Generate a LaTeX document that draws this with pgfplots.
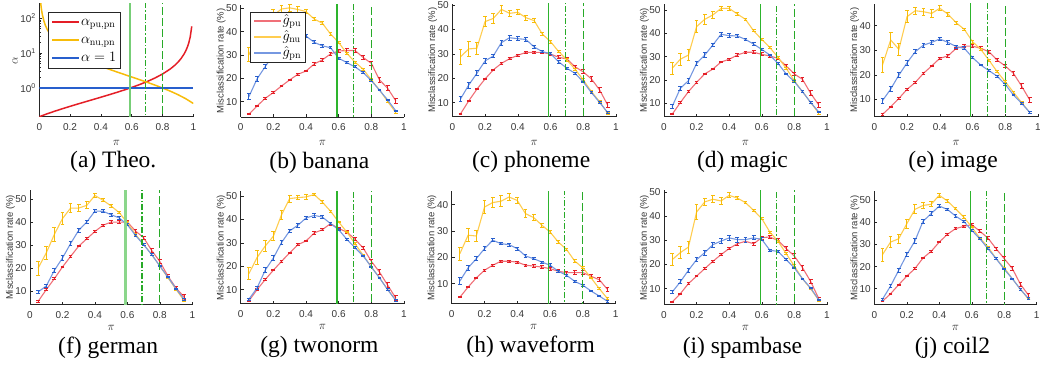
\documentclass[border=0pt]{standalone}
\usepackage[no-math]{fontspec}
\setmainfont{Liberation Sans}
\newfontfamily\capfont{Liberation Serif}
\usepackage{pgfplots}
\usepackage{pgfplotstable}
\pgfplotsset{compat=1.18}

\definecolor{axgray}{RGB}{38,38,38}
\definecolor{labgray}{RGB}{55,55,55}
\definecolor{cR}{RGB}{228,30,38}
\definecolor{cY}{RGB}{247,188,10}
\definecolor{cB}{RGB}{40,95,205}
\definecolor{lR}{RGB}{240,112,120}
\definecolor{lY}{RGB}{255,205,80}
\definecolor{lB}{RGB}{118,152,225}
\definecolor{gS}{RGB}{45,180,45}
\definecolor{gD}{RGB}{40,170,40}

\pgfplotsset{
  every axis title shift=0pt,
  pan/.style={scale only axis, anchor=south west,
    axis x line*=bottom, axis y line*=left,
    xmin=0, xmax=1, xtick={0,0.2,0.4,0.6,0.8,1},
    tick align=inside, major tick length=3pt, minor tick length=1.5pt,
    axis line style={draw=axgray, line width=0.6pt},
    every tick/.style={draw=axgray, line width=0.5pt},
    tick label style={font=\fontsize{10}{12}\selectfont, text=labgray},
    x tick label style={yshift=-3pt},
    /pgf/number format/assume math mode=true,
    xlabel={$\pi$},
    every axis x label/.style={at={(axis description cs:0.5,0)}, anchor=base, font=\fontsize{13}{14}\selectfont, text=axgray},
    ylabel style={font=\fontsize{9.5}{11}\selectfont, text=labgray, at={(axis description cs:-0.12,0.5)}, anchor=center},
    every axis title/.style={at={(axis description cs:0.5,0)}, anchor=base, xshift=-3pt, font=\capfont\fontsize{23.5}{26}\selectfont},
  },
  row1/.style={xlabel style={yshift=-28.5pt}, title style={yshift=-51.3pt}},
  row2/.style={xlabel style={yshift=-26pt}, title style={yshift=-48.5pt}},
  mis/.style={ylabel={Misclassification rate (\%)}},
  serR/.style={lR, line width=1.1pt, mark=none, forget plot, error bars/.cd, y dir=both, y explicit, error mark=|,
    error bar style={cR, line width=1pt}, error mark options={cR, line width=1pt, mark size=1.9pt}},
  serY/.style={lY, line width=1.1pt, mark=none, forget plot, error bars/.cd, y dir=both, y explicit, error mark=|,
    error bar style={cY, line width=1pt}, error mark options={cY, line width=1pt, mark size=1.9pt}},
  serB/.style={lB, line width=1.1pt, mark=none, forget plot, error bars/.cd, y dir=both, y explicit, error mark=|,
    error bar style={cB, line width=1pt}, error mark options={cB, line width=1pt, mark size=1.9pt}},
  leg/.style={legend image code/.code={\draw[##1] (0pt,0pt) -- (27pt,0pt);},
    legend cell align=left},
}

\newcommand{\series}[1]{%
  \addplot[serR] table[x=x,y=pu,y error=epu]{#1};
  \addplot[serY] table[x=x,y=nu,y error=enu]{#1};
  \addplot[serB] table[x=x,y=pn,y error=epn]{#1};
}
\newcommand{\glines}{%
  \addplot[gS, line width=1.2pt, forget plot] coordinates {(0.59,0.01) (0.59,400)};
  \addplot[gD, line width=1.1pt, forget plot, dash pattern=on 6pt off 2pt on 1.5pt off 2pt] coordinates {(0.69,0.01) (0.69,400)};
  \addplot[gD, line width=1.1pt, forget plot, dash pattern=on 8pt off 3pt] coordinates {(0.8,0.01) (0.8,400)};
}

% columns: x, pu, err, nu, err, pn, err
\pgfplotstableread{
x pu epu nu enu pn epn
0.05 4.6 0.3 30 3 12.1 1.2
0.10 8.1 0.3 38 3 19.7 1
0.15 11.4 0.3 43 2.5 25 1
0.20 13.9 0.3 47 2.5 30 1
0.25 16.7 0.3 49.7 1.5 33 1
0.30 19.3 0.3 50.2 1.5 35.5 1
0.35 21.7 0.4 49.5 1.2 37 1
0.40 23.1 0.4 48.6 1 38.1 0.8
0.45 26.1 0.5 45.4 0.7 35.4 0.7
0.50 27.9 0.5 43.6 0.6 33.9 0.6
0.55 30.4 0.6 39 0.5 33.1 0.5
0.60 31.7 0.7 35.3 0.5 28.6 0.5
0.65 31.9 0.7 30.7 0.4 26.7 0.4
0.70 31.9 0.7 26.9 0.4 24.9 0.4
0.75 28.9 0.7 23.9 0.4 22.4 0.3
0.80 26.4 0.8 19.3 0.4 19 0.3
0.85 19.3 0.9 15 0.3 14.9 0.3
0.90 15.7 1 10 0.3 10.7 0.3
0.95 10.3 1 5.3 0.3 6 0.3
}\tB
\pgfplotstableread{
x pu epu nu enu pn epn
0.05 5.4 0.3 28.8 3 11.5 1.2
0.10 10.7 0.3 32 3 17.2 1.2
0.15 15.5 0.3 32.3 2.5 22 1
0.20 19.7 0.3 43.2 2 27.1 1
0.25 23.4 0.3 44.5 2 29.1 0.8
0.30 26.1 0.3 48.2 1.5 34.6 1
0.35 28 0.4 46.6 1.2 36.6 1
0.40 29.4 0.4 47 1 36.2 0.8
0.45 30.6 0.5 44.8 1 35.9 0.8
0.50 30.6 0.5 43.6 0.8 32.8 0.7
0.55 30.6 0.6 38.1 0.6 30.9 0.5
0.60 29.9 0.6 35 0.6 30.1 0.5
0.65 28.6 0.7 30.9 0.5 26.7 0.5
0.70 27.9 0.7 27.5 0.5 24.1 0.4
0.75 24.7 0.7 23.7 0.4 22 0.4
0.80 22.6 0.8 19.3 0.4 18.5 0.3
0.85 19.7 0.9 14.5 0.3 14.1 0.3
0.90 15.2 1 10.4 0.3 10.1 0.3
0.95 8.9 1 5.6 0.3 5.9 0.3
}\tC
\pgfplotstableread{
x pu epu nu enu pn epn
0.05 5.3 0.3 25 2.5 8.6 1
0.10 10.3 0.3 28.9 2.5 16.4 1
0.15 15 0.3 30.7 2.5 19.7 1
0.20 19 0.3 42.9 2.5 27.1 1
0.25 22.6 0.3 46 2 30.7 1
0.30 24.7 0.3 47.9 1.5 35 0.8
0.35 27.7 0.4 50.7 1 39.6 0.8
0.40 28.9 0.4 50.7 0.8 39 0.8
0.45 30.7 0.5 48.3 0.6 38.9 0.7
0.50 31.9 0.5 46 0.5 37.4 0.6
0.55 31.9 0.6 41.1 0.5 35.4 0.5
0.60 31 0.6 37.4 0.5 33.1 0.5
0.65 30.3 0.7 33.9 0.4 30.7 0.4
0.70 29.3 0.7 29.7 0.4 27.1 0.4
0.75 26 0.7 25 0.4 22.6 0.3
0.80 22.6 0.8 19.7 0.4 19.3 0.3
0.85 20.3 0.9 15 0.3 15 0.3
0.90 14.3 1 10.4 0.3 10.4 0.3
0.95 9.3 1 5.7 0.3 6.3 0.3
}\tD
\pgfplotstableread{
x pu epu nu enu pn epn
0.05 3.9 0.3 24 3 9.5 1
0.10 7 0.3 34.2 3 14.2 1
0.15 10.4 0.3 30.4 2.5 19.9 1
0.20 14.1 0.3 43.7 2.5 24.9 1
0.25 16.9 0.3 46.1 1.5 29.4 0.8
0.30 20.6 0.3 45.7 1.5 32.1 0.8
0.35 23.6 0.4 45 1.5 33.2 0.8
0.40 26.7 0.5 47.1 1 34.6 0.8
0.45 27.7 0.5 44.7 0.8 33.2 0.7
0.50 30.8 0.5 41.2 0.6 31.5 0.6
0.55 31.7 0.6 38.5 0.5 30.8 0.6
0.60 31.7 0.6 33.5 0.6 27 0.5
0.65 30.8 0.7 30.4 0.5 24 0.4
0.70 29.4 0.7 26 0.4 21.7 0.4
0.75 26 0.7 21.3 0.4 19.5 0.4
0.80 23.6 0.8 17.2 0.4 16.1 0.3
0.85 20.6 0.9 12.9 0.3 11.8 0.3
0.90 15.4 1 8.7 0.3 8.4 0.3
0.95 9.7 1 4.6 0.3 4.7 0.3
}\tE
\pgfplotstableread{
x pu epu nu enu pn epn
0.05 5.5 0.3 20 3 9.6 0.8
0.10 10.6 0.3 26.6 3 12.2 0.8
0.15 15.4 0.3 34.7 3 19 1
0.20 20.5 0.3 41.6 2.5 24.4 1
0.25 25.1 0.3 46.2 2 30.7 1
0.30 29.6 0.3 46.2 1.5 36.5 1
0.35 32.8 0.4 47.4 1.5 40.1 0.8
0.40 36 0.4 51.7 0.8 44.9 0.8
0.45 38.7 0.5 49.6 0.6 44.8 0.6
0.50 40.1 0.5 47.1 0.5 43.3 0.6
0.55 40.1 0.5 44.2 0.5 41.9 0.5
0.60 40.1 0.6 39.8 0.5 38.9 0.5
0.65 36.2 0.6 34.7 0.4 34.3 0.4
0.70 33.3 0.7 30.4 0.4 30.2 0.4
0.75 27.7 0.7 25.9 0.4 25.9 0.3
0.80 22.9 0.8 20.9 0.3 20.9 0.3
0.85 16.5 0.8 15.8 0.3 16.1 0.3
0.90 11.3 0.9 10.7 0.3 11 0.3
0.95 7.4 1 5.8 0.3 6.4 0.3
}\tF
\pgfplotstableread{
x pu epu nu enu pn epn
0.05 5.2 0.3 16.8 2.5 5.9 0.5
0.10 10 0.3 23.7 3 10.7 0.8
0.15 14.3 0.3 28.6 2.5 18.3 1
0.20 18.3 0.3 32.8 2 23.5 1
0.25 22.1 0.3 42 2 30.1 1
0.30 25.7 0.3 48.9 1.5 35.1 0.8
0.35 29.2 0.4 49.3 1 37.5 0.8
0.40 30.8 0.4 49.6 1 40.6 0.8
0.45 34.2 0.5 50.6 0.5 41.7 0.7
0.50 35.6 0.5 47.4 0.5 41 0.6
0.55 38.2 0.6 43.5 0.4 38.2 0.5
0.60 36.1 0.6 38.9 0.4 35.6 0.5
0.65 34.6 0.7 34.6 0.4 31.5 0.4
0.70 31.5 0.7 29.6 0.4 27.9 0.4
0.75 27.8 0.7 24.7 0.3 24.4 0.3
0.80 22.1 0.8 19.7 0.3 19.7 0.3
0.85 17.5 0.9 15.1 0.3 15 0.3
0.90 11.9 1 10 0.3 10 0.3
0.95 6.4 1 5.4 0.3 5.4 0.3
}\tG
\pgfplotstableread{
x pu epu nu enu pn epn
0.05 4.9 0.3 21.4 2.5 11 1.2
0.10 8.7 0.3 28.4 2.5 16 1
0.15 12.2 0.3 28.1 2 19.5 0.8
0.20 15.1 0.3 39.1 2.5 23.3 0.8
0.25 17 0.3 40.8 2 26.5 0.6
0.30 18.5 0.3 41.3 2 25.2 0.5
0.35 18.5 0.4 42.9 1.5 24.8 0.5
0.40 18.2 0.4 41.6 1.2 23.3 0.6
0.45 17 0.4 36.6 1.5 20.5 0.4
0.50 16.7 0.5 35.1 1.2 19.5 0.5
0.55 16.3 0.5 32.2 0.8 18.2 0.4
0.60 15.7 0.6 29.6 0.6 17 0.5
0.65 14.7 0.5 25.8 0.5 14.7 0.4
0.70 14.2 0.6 23 0.5 13.2 0.4
0.75 14.2 0.7 18.6 0.4 10.9 0.3
0.80 14.2 0.7 16 0.4 9.4 0.3
0.85 12.8 0.7 12.2 0.3 7.2 0.3
0.90 11.5 0.8 8.1 0.3 5.3 0.3
0.95 7.8 0.9 4.3 0.3 3.3 0.3
}\tH
\pgfplotstableread{
x pu epu nu enu pn epn
0.05 4.5 0.3 22 2.5 8.6 0.8
0.10 7.9 0.3 24.9 2.5 12.8 0.8
0.15 12.1 0.3 27.2 2.5 17.6 0.8
0.20 15.2 0.3 41.7 3 22 0.8
0.25 18.3 0.3 45.9 1.5 24.9 1
0.30 21.3 0.3 47 1.5 28.2 1
0.35 24.1 0.4 46.3 1.5 29.7 1
0.40 26.6 0.5 48.6 1 31 1
0.45 28.6 0.6 47.5 0.6 30.3 1
0.50 29.6 0.6 45.6 0.5 30.3 1
0.55 28.6 0.7 42.4 0.5 31 0.8
0.60 31.1 0.6 39 0.5 30.4 0.6
0.65 31.4 0.7 33.4 0.4 25.9 0.5
0.70 29.9 0.7 29.6 0.4 25.4 0.4
0.75 26.6 0.7 24.5 0.4 22 0.3
0.80 23.5 1 19.4 0.4 18.6 0.3
0.85 18.7 1 14.1 0.3 14.1 0.3
0.90 13 1 10 0.3 10.3 0.3
0.95 5.9 0.6 5.2 0.3 5.4 0.3
}\tI
\pgfplotstableread{
x pu epu nu enu pn epn
0.05 4.3 0.3 25.4 3 5.2 0.5
0.10 7.7 0.3 31.1 2.5 11.2 0.8
0.15 11.8 0.3 32.6 2 18.3 1
0.20 15.7 0.3 39.4 2 25.4 1
0.25 19.1 0.3 45.9 2 31.6 1
0.30 23.9 0.3 47.7 1.5 40.5 1
0.35 26.9 0.4 48.2 1.2 44 0.8
0.40 31.1 0.4 52.3 0.8 47.4 0.8
0.45 34.6 0.5 49.7 0.5 45.9 0.6
0.50 37.2 0.5 46.2 0.5 42.9 0.5
0.55 38.2 0.5 42.5 0.5 40.5 0.5
0.60 39 0.6 37.9 0.4 36.4 0.4
0.65 36 0.6 32.9 0.4 32.6 0.4
0.70 32.9 0.7 28.9 0.4 28.1 0.4
0.75 28.1 0.7 23.6 0.3 23.6 0.3
0.80 23.6 0.8 19.4 0.3 18.8 0.3
0.85 19.1 0.9 14.5 0.3 14.5 0.3
0.90 12 0.9 9.7 0.3 9.7 0.3
0.95 7 0.9 5.2 0.3 5.5 0.3
}\tJ

\begin{document}
\begin{tikzpicture}
\useasboundingbox (0,0) rectangle (1040pt,364pt);

% (a)
\begin{axis}[pan, row1, leg, at={(39.3pt,247.3pt)}, width=154pt, height=113.5pt,
  ymode=log, ymin=0.15, ymax=270, ytick={1,10,100},
  yticklabels={10\textsuperscript{0},10\textsuperscript{1},10\textsuperscript{2}},
  ylabel={$\alpha$}, ylabel style={font=\fontsize{12}{13}\selectfont, at={(axis description cs:-0.158,0.49)}},
  title={(a) Theo.},
  legend style={at={(0.058,0.925)}, anchor=north west, draw=axgray, line width=0.6pt,
    font=\fontsize{14}{16}\selectfont, inner xsep=3pt, inner ysep=1pt,
    nodes={inner sep=1pt, text height=11pt, text depth=5pt}}]
\addplot[cR, line width=1.5pt] coordinates {(0,0.15) (0.05,0.181) (0.1,0.2156) (0.15,0.254) (0.2,0.2975) (0.25,0.3467) (0.3,0.4029) (0.35,0.4677) (0.4,0.5433) (0.45,0.6327) (0.5,0.74) (0.55,0.8711) (0.6,1.035) (0.65,1.2457) (0.7,1.5267) (0.75,1.92) (0.8,2.51) (0.85,3.493) (0.88,4.477) (0.9,5.46) (0.92,6.935) (0.94,9.393) (0.95,11.36) (0.96,14.31) (0.97,19.23) (0.98,29.06) (0.99,58.56)};
\addlegendentry{$\alpha_{\mathrm{pu,pn}}$}
\addplot[cY, line width=1.5pt] coordinates {(0.0093,273) (0.01,253.8) (0.012,211) (0.015,168.5) (0.02,125.8) (0.03,83.1) (0.04,61.8) (0.05,49) (0.07,34.37) (0.1,23.4) (0.15,14.87) (0.2,10.6) (0.25,8.04) (0.3,6.333) (0.35,5.114) (0.4,4.2) (0.45,3.489) (0.5,2.92) (0.55,2.4545) (0.6,2.0667) (0.65,1.738) (0.7,1.457) (0.75,1.2133) (0.8,1.0) (0.85,0.8118) (0.9,0.6444) (0.95,0.4947) (1.0,0.36)};
\addlegendentry{$\alpha_{\mathrm{nu,pn}}$}
\addplot[cB, line width=1.5pt] coordinates {(0,1) (1,1)};
\addlegendentry{$\alpha=1$}
\addplot[gS!65!white, line width=1.5pt, forget plot] coordinates {(0.59,0.01) (0.59,400)};
\addplot[gD, line width=1.1pt, forget plot, dash pattern=on 6pt off 2pt on 1.5pt off 2pt] coordinates {(0.69,0.01) (0.69,400)};
\addplot[gD, line width=1.1pt, forget plot, dash pattern=on 8pt off 3pt] coordinates {(0.8,0.01) (0.8,400)};
\end{axis}

% (b)
\begin{axis}[pan, row1, mis, leg, at={(240.7pt,247pt)}, width=163.3pt, height=112.2pt,
  ymin=3.4, ymax=51.5, ytick={10,20,30,40,50}, title={(b) banana},
  legend style={at={(0.057,0.938)}, anchor=north west, draw=axgray, line width=0.6pt,
    font=\fontsize{14}{16}\selectfont, inner xsep=3pt, inner ysep=1pt,
    nodes={inner sep=1pt, text height=10pt, text depth=4pt}}]
\addlegendimage{lR, line width=1.4pt}\addlegendentry{$\hat{g}_{\mathrm{pu}}$}
\addlegendimage{lY, line width=1.4pt}\addlegendentry{$\hat{g}_{\mathrm{nu}}$}
\addlegendimage{lB, line width=1.4pt}\addlegendentry{$\hat{g}_{\mathrm{pn}}$}
\series{\tB}
\glines
\end{axis}

% (c)
\begin{axis}[pan, row1, mis, at={(452.3pt,247.3pt)}, width=163.7pt, height=112.9pt,
  ymin=4.25, ymax=50.5, ytick={10,20,30,40,50}, title={(c) phoneme}]
\series{\tC}
\glines
\end{axis}

% (d)
\begin{axis}[pan, row1, mis, at={(664pt,247.3pt)}, width=162.9pt, height=112.5pt,
  ymin=4.27, ymax=52.5, ytick={10,20,30,40,50}, title={(d) magic}]
\series{\tD}
\glines
\end{axis}

% (e)
\begin{axis}[pan, row1, mis, at={(874.3pt,247.3pt)}, width=163.7pt, height=113.1pt,
  ymin=2.96, ymax=49, ytick={10,20,30,40}, title={(e) image}]
\series{\tE}
\glines
\end{axis}

% (f)
\begin{axis}[pan, row2, mis, at={(30pt,59.3pt)}, width=162.3pt, height=114.5pt,
  ymin=4.05, ymax=54, ytick={10,20,30,40,50}, title={(f) german}]
\series{\tF}
\addplot[gS!55!white, line width=2.6pt, forget plot] coordinates {(0.59,0.01) (0.59,400)};
\addplot[gD, line width=1.1pt, forget plot, dash pattern=on 6pt off 2pt on 1.5pt off 2pt] coordinates {(0.69,0.01) (0.69,400)};
\addplot[gD, line width=1.1pt, forget plot, dash pattern=on 8pt off 3pt] coordinates {(0.8,0.01) (0.8,400)};
\end{axis}

% (g)
\begin{axis}[pan, row2, mis, at={(240.7pt,60.3pt)}, width=163.3pt, height=112.4pt,
  ymin=4, ymax=52, ytick={10,20,30,40,50}, title={(g) twonorm}]
\series{\tG}
\glines
\end{axis}

% (h)
\begin{axis}[pan, row2, mis, at={(451.7pt,60.3pt)}, width=164pt, height=112.2pt,
  ymin=2.4, ymax=45, ytick={10,20,30,40}, title={(h) waveform}]
\series{\tH}
\glines
\end{axis}

% (i)
\begin{axis}[pan, row2, mis, at={(664pt,59.3pt)}, width=162.9pt, height=114.4pt,
  ymin=3.37, ymax=50.7, ytick={10,20,30,40,50}, title={(i) spambase}]
\series{\tI}
\glines
\end{axis}

% (j)
\begin{axis}[pan, row2, mis, at={(874.3pt,59.3pt)}, width=162.4pt, height=113.2pt,
  ymin=2.76, ymax=54, ytick={10,20,30,40,50}, title={(j) coil2}]
\series{\tJ}
\glines
\end{axis}
\end{tikzpicture}
\end{document}
